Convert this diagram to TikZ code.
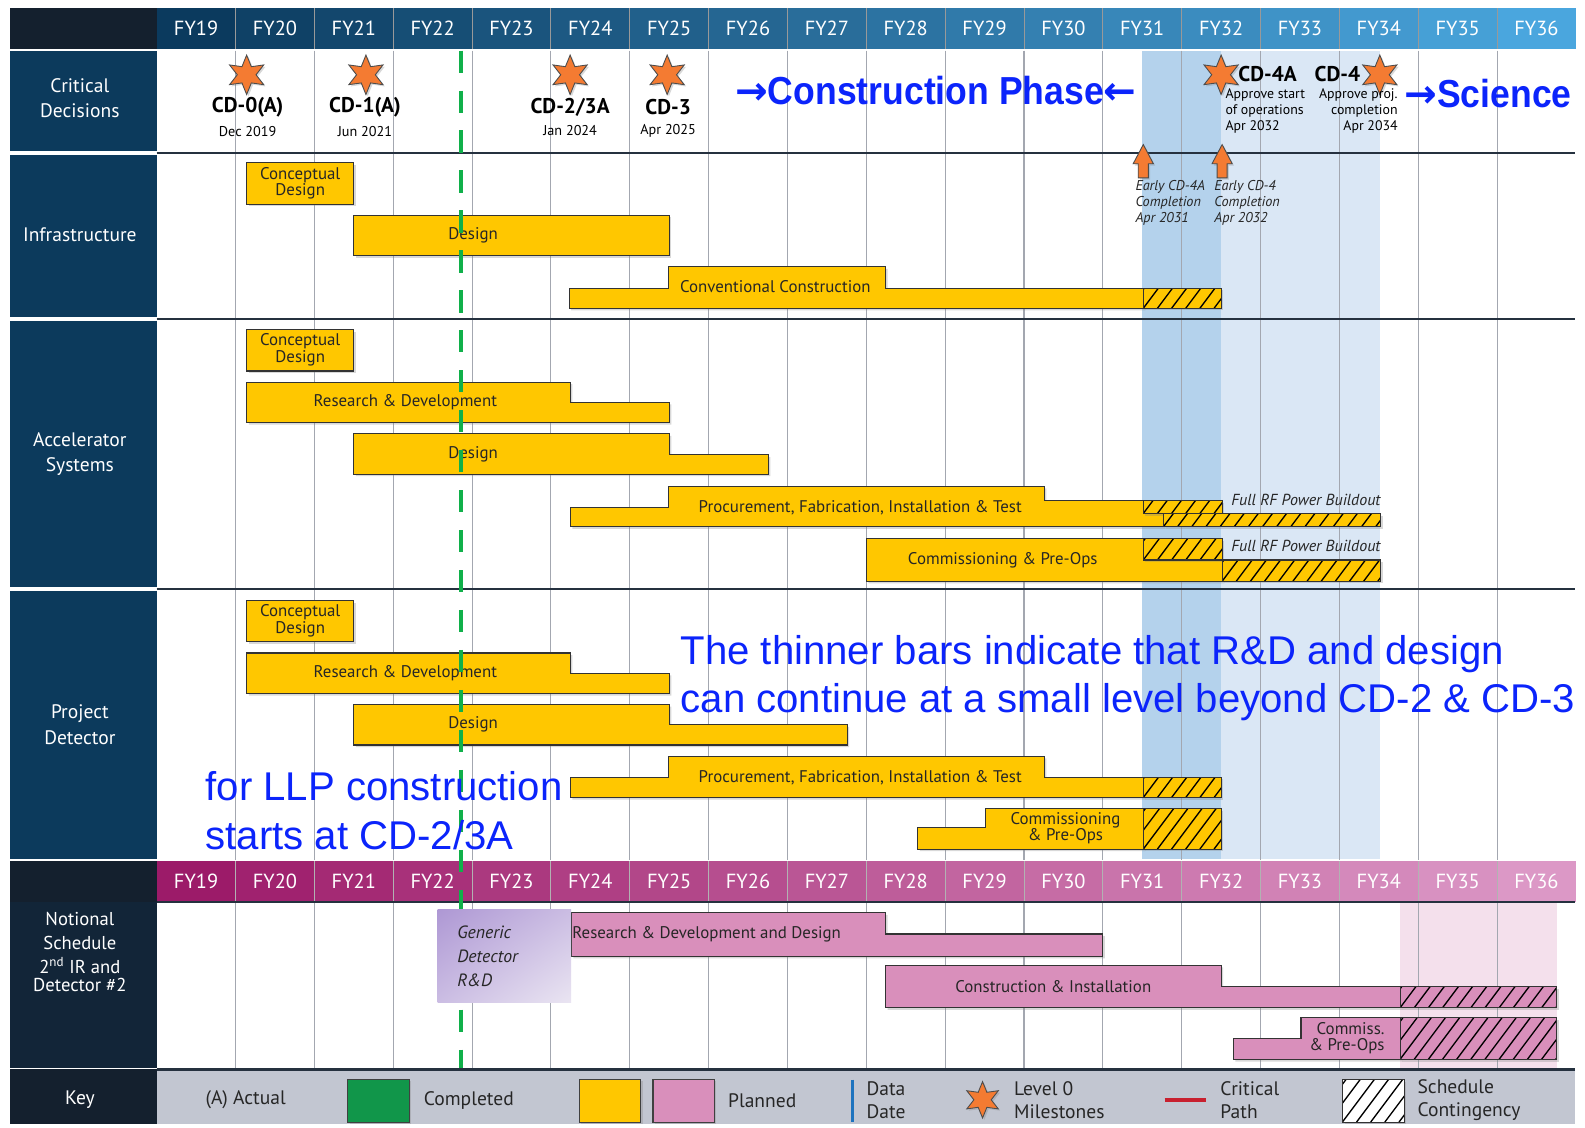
\documentclass[tikz,border=0pt]{standalone}
\usepackage{fontspec}
\setmainfont{PT Sans}
\newfontfamily\arialf{Liberation Sans}
\newfontfamily\arialnarrow[FakeStretch=0.91]{Liberation Sans}
\newfontfamily\arrowf{DejaVu Sans}
\usetikzlibrary{shapes.geometric,shadows,shadings}
\definecolor{navyL}{HTML}{0C3A5C}
\definecolor{navyD}{HTML}{14202E}
\definecolor{navyN}{HTML}{122538}
\definecolor{hdrA}{HTML}{0B3A5E}
\definecolor{hdrB}{HTML}{4AA6DE}
\definecolor{pinkA}{HTML}{9C1B69}
\definecolor{pinkB}{HTML}{DC98C6}
\definecolor{barY}{HTML}{FFC700}
\definecolor{barP}{HTML}{D98FBB}
\definecolor{shadeD}{HTML}{B4D2EC}
\definecolor{shadeL}{HTML}{DAE7F5}
\definecolor{shadeP}{HTML}{F4E0EC}
\definecolor{gridc}{HTML}{A3A7B0}
\definecolor{sepc}{HTML}{25313F}
\definecolor{keybg}{HTML}{C2C6D1}
\definecolor{starO}{HTML}{F47B32}
\definecolor{greenD}{HTML}{10B04A}
\definecolor{keyGreen}{HTML}{11964A}
\definecolor{blueT}{HTML}{0B24FB}
\definecolor{critRed}{HTML}{C8202F}
\definecolor{dataBlue}{HTML}{1E73BE}
\definecolor{genA}{HTML}{AE98D4}
\definecolor{genM}{HTML}{CBBDE3}
\definecolor{genB}{HTML}{EAE5F2}
\newcommand{\myfs}[2]{\fontsize{#1}{#2}\selectfont}
\newcommand{\hatchrect}[5]{%
  \fill[#5, drop shadow={shadow xshift=1.2pt,shadow yshift=-1.2pt,opacity=0.3}] (#1,#2) rectangle (#3,#4);
  \begin{scope}
    \clip (#1,#2) rectangle (#3,#4);
    \pgfmathsetmacro{\hh}{#4-#2}
    \pgfmathtruncatemacro{\nk}{(#3-#1)/14+1}
    \foreach \k in {-5,...,\nk} {\draw[line width=0.75pt] ({#1+\k*14},#4) -- ++({0.75*\hh},-\hh);}
  \end{scope}
  \draw[line width=0.6pt,draw=black!80] (#1,#2) rectangle (#3,#4);
}
\begin{document}
\begin{tikzpicture}[x=0.02cm,y=-0.02cm,
  ybar/.style={fill=barY, draw=black!80, line width=0.6pt, drop shadow={shadow xshift=1.2pt,shadow yshift=-1.2pt,opacity=0.3}},
  pbar/.style={fill=barP, draw=black!80, line width=0.6pt, drop shadow={shadow xshift=1.2pt,shadow yshift=-1.2pt,opacity=0.3}},
  btxt/.style={font=\myfs{9.5}{9.2}, text=black!85, inner sep=0pt, align=center},
  ltxt/.style={text=white, font=\myfs{11}{14.2}, align=center, inner sep=0pt},
  htxt/.style={text=white, font=\myfs{11.5}{12}, inner sep=0pt},
  cdtxt/.style={font=\myfs{12}{12}\bfseries, inner sep=0pt},
  cdsub/.style={font=\myfs{8}{9}, inner sep=0pt},
  ktxt/.style={font=\myfs{11}{13}, text=black!85, inner sep=0pt, align=left},
  milestone/.style={star, star points=6, star point ratio=2.1, minimum size=0.78cm, inner sep=0pt, fill=starO, draw=black!70, line width=0.5pt, drop shadow={shadow xshift=1pt,shadow yshift=-1pt,opacity=0.3}},
  uparr/.style={fill=starO, draw=black!70, line width=0.5pt, drop shadow={shadow xshift=1pt,shadow yshift=-1pt,opacity=0.3}},
  bluetxt/.style={text=blueT, inner sep=0pt}
]
\useasboundingbox (0,0) rectangle (1568,1115);
\fill[white] (0,0) rectangle (1568,1115);

% ---------- header (blue) ----------
\fill[navyD] (10,8) rectangle (155,48);
\foreach \i in {0,...,17}{
  \pgfmathtruncatemacro{\pc}{round(100*\i/17)}
  \pgfmathtruncatemacro{\yr}{19+\i}
  \fill[hdrB!\pc!hdrA] ({155+78*\i},8) rectangle ({233+78*\i},48);
  \node[htxt] (hy\i) at ({194+78*\i},28) {FY\yr};
}
\foreach \k in {1,...,17} \draw[black!40, line width=0.5pt] ({155+78*\k},8) -- ({155+78*\k},48);

% ---------- left column ----------
\fill[navyL] (10,50) rectangle (155,149);
\fill[navyL] (10,153) rectangle (155,314);
\fill[navyL] (10,318) rectangle (155,581);
\fill[navyL] (10,585) rectangle (155,850);
\fill[navyD] (10,852) rectangle (155,892);
\fill[navyN] (10,892) rectangle (155,1057);
\fill[navyD] (10,1058) rectangle (155,1112);
\node[ltxt] (lcd) at (79,97) {Critical\\Decisions};
\node[ltxt] (linf) at (79,232) {Infrastructure};
\node[ltxt] (lacc) at (79,449) {Accelerator\\Systems};
\node[ltxt] (ldet) at (79,717) {Project\\Detector};
\node[ltxt, font=\myfs{10.5}{13.4}] (lnot) at (79,942) {Notional\\Schedule\\2\textsuperscript{nd} IR and\\[-3pt]Detector \#2};
\node[ltxt] (lkey) at (79,1088) {Key};

% ---------- pink header ----------
\foreach \i in {0,...,17}{
  \pgfmathtruncatemacro{\pc}{round(100*\i/17)}
  \pgfmathtruncatemacro{\yr}{19+\i}
  \fill[pinkB!\pc!pinkA] ({155+78*\i},852) rectangle ({233+78*\i},892);
  \node[htxt] (py\i) at ({194+78*\i},872) {FY\yr};
}
\foreach \k in {1,...,17} \draw[black!30, line width=0.5pt] ({155+78*\k},852) -- ({155+78*\k},892);

% ---------- key background ----------
\fill[keybg] (155,1058) rectangle (1558,1112);

% ---------- shading ----------
\fill[shadeD] (1130,50) rectangle (1208,850);
\fill[shadeL] (1208,50) rectangle (1365,850);
\fill[shadeP] (1385,893) rectangle (1540,1057);

% ---------- grid ----------
\foreach \k in {1,...,17}{
  \draw[gridc, line width=0.6pt] ({155+78*\k},50) -- ({155+78*\k},851);
  \draw[gridc, line width=0.6pt] ({155+78*\k},892) -- ({155+78*\k},1057);
}
\foreach \yy in {151,316,583}
  \draw[sepc, line width=1.2pt] (155,\yy) -- (1558,\yy);
\draw[sepc, line width=1.2pt] (155,892) -- (1558,892);
\draw[sepc, line width=1.2pt] (155,1058) -- (1558,1058);

% ---------- Critical decisions ----------
\node[milestone] (s0) at (244,74) {};
\node[milestone] (s1) at (362,74) {};
\node[milestone] (s2) at (564,74) {};
\node[milestone] (s3) at (660,74) {};
\node[milestone] (s4a) at (1208,74) {};
\node[milestone] (s4) at (1365,74) {};
\node[cdtxt] (cd0) at (245,106) {CD-0(A)};
\node[cdsub] (cd0d) at (245,130) {Dec 2019};
\node[cdtxt] (cd1) at (361,106) {CD-1(A)};
\node[cdsub] (cd1d) at (361,130) {Jun 2021};
\node[cdtxt] (cd2) at (564,106) {CD-2/3A};
\node[cdsub] (cd2d) at (564,129) {Jan 2024};
\node[cdtxt] (cd3) at (661,106) {CD-3};
\node[cdsub] (cd3d) at (661,129) {Apr 2025};
\node[cdtxt] (cd4a) at (1254,73) {CD-4A};
\node[cdsub, anchor=north west, align=left, font=\myfs{7.8}{9}] (cd4ad) at (1212,87) {Approve start\\of operations\\Apr 2032};
\node[cdtxt] (cd4) at (1323,73) {CD-4};
\node[cdsub, anchor=north east, align=right, font=\myfs{7.8}{9}] (cd4d) at (1383,87) {Approve proj.\\completion\\Apr 2034};

% early completion arrows
\draw[uparr] (1131,143) -- (1141,162) -- (1136,162) -- (1136,176) -- (1126,176) -- (1126,162) -- (1121,162) -- cycle;
\draw[uparr] (1209,143) -- (1219,162) -- (1214,162) -- (1214,176) -- (1204,176) -- (1204,162) -- (1199,162) -- cycle;
\node[anchor=north west, align=left, font=\myfs{8}{9.1}\itshape, inner sep=0pt, text=black!85] (e4a) at (1123,178) {Early CD-4A\\Completion\\Apr 2031};
\node[anchor=north west, align=left, font=\myfs{8}{9.1}\itshape, inner sep=0pt, text=black!85] (e4) at (1201,178) {Early CD-4\\Completion\\Apr 2032};

% ---------- Infrastructure ----------
\draw[ybar] (244,161) rectangle (350,202);
\node[btxt] (icd) at (297,181) {Conceptual\\Design};
\draw[ybar] (350,213) rectangle (662,253);
\node[btxt] (ides) at (468,233) {Design};
\draw[ybar] (563,305) -- (563,285) -- (661,285) -- (661,264) -- (876,264) -- (876,285) -- (1131,285) -- (1131,305) -- cycle;
\hatchrect{1131}{285}{1208}{305}{barY}
\node[btxt] (icc) at (767,284) {Conventional Construction};

% ---------- Accelerator ----------
\draw[ybar] (244,326) rectangle (350,367);
\node[btxt] (acd) at (297,346) {Conceptual\\Design};
\draw[ybar] (244,378) -- (564,378) -- (564,398) -- (662,398) -- (662,418) -- (244,418) -- cycle;
\node[btxt] (ard) at (401,398) {Research \& Development};
\draw[ybar] (350,429) -- (662,429) -- (662,450) -- (760,450) -- (760,469) -- (350,469) -- cycle;
\node[btxt] (ades) at (468,449) {Design};
\draw[ybar] (564,521) -- (564,502) -- (661,502) -- (661,481) -- (1033,481) -- (1033,495) -- (1131,495) -- (1131,508) -- (1151,508) -- (1151,521) -- cycle;
\hatchrect{1131}{495}{1209}{508}{barY}
\hatchrect{1151}{508}{1366}{521}{barY}
\node[btxt] (apf) at (851,502) {Procurement, Fabrication, Installation \& Test};
\node[anchor=east, font=\myfs{9}{9}\itshape, inner sep=0pt, text=black!85] (rf1) at (1366,495) {Full RF Power Buildout};
\draw[ybar] (857,533) -- (1131,533) -- (1131,554) -- (1209,554) -- (1209,575) -- (857,575) -- cycle;
\hatchrect{1131}{533}{1209}{554}{barY}
\hatchrect{1209}{554}{1366}{575}{barY}
\node[btxt] (acp) at (992,554) {Commissioning \& Pre-Ops};
\node[anchor=east, font=\myfs{9}{9}\itshape, inner sep=0pt, text=black!85] (rf2) at (1366,540) {Full RF Power Buildout};

% ---------- Project Detector ----------
\draw[ybar] (244,594) rectangle (350,635);
\node[btxt] (dcd) at (297,614) {Conceptual\\Design};
\draw[ybar] (244,646) -- (564,646) -- (564,666) -- (662,666) -- (662,686) -- (244,686) -- cycle;
\node[btxt] (drd) at (401,666) {Research \& Development};
\draw[ybar] (350,697) -- (662,697) -- (662,717) -- (838,717) -- (838,737) -- (350,737) -- cycle;
\node[btxt] (ddes) at (468,717) {Design};
\draw[ybar] (564,789) -- (564,769) -- (661,769) -- (661,748) -- (1033,748) -- (1033,769) -- (1131,769) -- (1131,789) -- cycle;
\hatchrect{1131}{769}{1208}{789}{barY}
\node[btxt] (dpf) at (851,769) {Procurement, Fabrication, Installation \& Test};
\draw[ybar] (908,840) -- (908,819) -- (975,819) -- (975,800) -- (1131,800) -- (1131,840) -- cycle;
\hatchrect{1131}{800}{1208}{840}{barY}
\node[btxt] (dcp) at (1054,819) {Commissioning\\\& Pre-Ops};

% ---------- Notional ----------
\draw[pbar] (565,903) -- (876,903) -- (876,924) -- (1091,924) -- (1091,946) -- (565,946) -- cycle;
\node[btxt, anchor=west] (nrd) at (566,924) {Research \& Development and Design};
\draw[pbar] (876,997) -- (876,955) -- (1208,955) -- (1208,976) -- (1385,976) -- (1385,997) -- cycle;
\hatchrect{1385}{976}{1540}{997}{barP}
\node[btxt] (nci) at (1042,976) {Construction \& Installation};
\draw[pbar] (1220,1048) -- (1220,1027) -- (1287,1027) -- (1287,1007) -- (1385,1007) -- (1385,1048) -- cycle;
\hatchrect{1385}{1007}{1540}{1048}{barP}
\node[btxt, anchor=east, align=right] (ncp) at (1370,1027) {Commiss.\\\& Pre-Ops};

% ---------- data date line ----------
\draw[greenD, line width=2.4pt, dash pattern=on 12.5pt off 10pt] (456,50) -- (456,1057);

% ---------- generic detector box ----------
\shade[upper left=genA, upper right=genM, lower left=genM, lower right=genB] (433,900) rectangle (565,992);
\node[anchor=west, align=left, font=\myfs{10}{13.6}\itshape, inner sep=0pt, text=black!85] (gen) at (452,946) {Generic\\Detector\\R\&D};

% ---------- blue annotations ----------
\node[bluetxt, anchor=base west, font=\myfs{22}{22}] (cph) at (727,103) {{\arrowf\bfseries →}{\arialnarrow\bfseries Construction Phase}{\arrowf\bfseries ←}};
\node[bluetxt, anchor=base west, font=\myfs{22}{22}] (sci) at (1389,106) {{\arrowf\bfseries →}{\arialnarrow\bfseries Science}};
\node[bluetxt, anchor=base west, font=\arialf\myfs{22.6}{22}] (thin1) at (673,657) {The thinner bars indicate that R\&D and design};
\node[bluetxt, anchor=base west, font=\arialf\myfs{22.6}{22}] (thin2) at (673,705) {can continue at a small level beyond CD-2 \& CD-3};
\node[bluetxt, anchor=base west, font=\arialf\myfs{22.6}{22}] (llp1) at (203,792) {for LLP construction};
\node[bluetxt, anchor=base west, font=\arialf\myfs{22.6}{22}] (llp2) at (203,840) {starts at CD-2/3A};

% ---------- key ----------
\node[ktxt] (kact) at (243,1088) {(A) Actual};
\draw[fill=keyGreen, draw=black!75, line width=0.6pt, drop shadow={shadow xshift=1pt,shadow yshift=-1pt,opacity=0.3}] (344,1068) rectangle (405,1110);
\node[ktxt, anchor=west] (kcomp) at (419,1089) {Completed};
\draw[fill=barY, draw=black!75, line width=0.6pt, drop shadow={shadow xshift=1pt,shadow yshift=-1pt,opacity=0.3}] (573,1068) rectangle (634,1110);
\draw[fill=barP, draw=black!75, line width=0.6pt, drop shadow={shadow xshift=1pt,shadow yshift=-1pt,opacity=0.3}] (646,1068) rectangle (707,1110);
\node[ktxt, anchor=west] (kplan) at (720,1089) {Planned};
\draw[dataBlue, line width=1.8pt] (843,1068) -- (843,1110);
\node[ktxt, anchor=west] (kdd) at (857,1088) {Data\\Date};
\node[milestone, minimum size=0.72cm] (kstar) at (972,1088) {};
\node[ktxt, anchor=west] (kms) at (1003,1088) {Level 0\\Milestones};
\draw[critRed, line width=2.2pt] (1152,1088) -- (1193,1088);
\node[ktxt, anchor=west] (kcp) at (1207,1088) {Critical\\Path};
\hatchrect{1328}{1068}{1389}{1110}{white}
\node[ktxt, anchor=west] (ksc) at (1402,1088) {Schedule\\Contingency};
\end{tikzpicture}
\end{document}
